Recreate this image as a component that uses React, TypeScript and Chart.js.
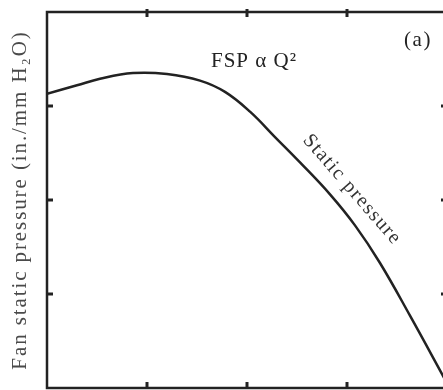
import React, { useEffect, useRef } from "react";
import { Chart, registerables } from "chart.js";

Chart.register(...registerables);

// Flow (relative units) and fan static pressure (relative units)
const flowValues = [0, 0.3, 0.53, 0.86, 1.2, 1.53, 1.78, 2.03, 2.28, 2.53, 2.83, 3.08, 3.33, 3.63, 3.96, 4.0];
const pressureValues = [3.13, 3.22, 3.29, 3.35, 3.34, 3.27, 3.15, 2.94, 2.67, 2.4, 2.06, 1.73, 1.33, 0.77, 0.13, 0.05];

const xTickValues = [1, 2, 3];
const yTickValues = [1, 2, 3];

const yTitle = "Fan static pressure (in./mm H₂O)";
const curveLabel = "Static pressure";
const lawLabel = "FSP α Q²";
const panelLabel = "(a)";

const CANVAS_W = 460;
const CANVAS_H = 390;

const framePlugin = {
  id: "frameAndNotes",
  beforeDraw(chart: any) {
    (chart.ctx as any).letterSpacing = "1.9px";
  },
  afterDraw(chart: any) {
    const { ctx, chartArea: a, scales } = chart;
    const x = scales.x;
    const y = scales.y;
    ctx.save();
    (ctx as any).letterSpacing = "0px";
    ctx.strokeStyle = "#222";
    ctx.lineWidth = 2.5;
    ctx.strokeRect(a.left, a.top, a.right - a.left, a.bottom - a.top);
    const seg = (x1: number, y1: number, x2: number, y2: number) => {
      ctx.beginPath();
      ctx.moveTo(x1, y1);
      ctx.lineTo(x2, y2);
      ctx.stroke();
    };
    ctx.lineWidth = 3;
    xTickValues.forEach((v) => {
      const px = x.getPixelForValue(v);
      seg(px, a.top - 3, px, a.top + 5);
      seg(px, a.bottom - 6, px, a.bottom);
    });
    yTickValues.forEach((v) => {
      const py = y.getPixelForValue(v);
      seg(a.left, py, a.left + 6, py);
      seg(a.right - 6, py, a.right, py);
    });

    ctx.textAlign = "center";
    ctx.textBaseline = "middle";

    // FSP α Q²
    ctx.fillStyle = "#222";
    ctx.font = "21px 'Liberation Serif', serif";
    (ctx as any).letterSpacing = "1px";
    ctx.fillText(lawLabel, x.getPixelForValue(2.07), y.getPixelForValue(3.47));

    // (a)
    ctx.font = "21px 'Liberation Serif', serif";
    (ctx as any).letterSpacing = "1.5px";
    ctx.fillText(panelLabel, x.getPixelForValue(3.71), y.getPixelForValue(3.7));

    // Static pressure (rotated along the curve)
    ctx.fillStyle = "#333";
    ctx.font = "20px 'Liberation Serif', serif";
    (ctx as any).letterSpacing = "1.5px";
    ctx.translate(x.getPixelForValue(3.05), y.getPixelForValue(2.11));
    ctx.rotate((49 * Math.PI) / 180);
    ctx.fillText(curveLabel, 0, 0);
    ctx.restore();
  },
};

export default function App() {
  const ref = useRef<HTMLCanvasElement | null>(null);

  useEffect(() => {
    if (!ref.current) return;
    const chart = new Chart(ref.current, {
      type: "line",
      data: {
        datasets: [
          {
            data: flowValues.map((q, i) => ({ x: q, y: pressureValues[i] })),
            borderColor: "#222",
            borderWidth: 2.5,
            pointRadius: 0,
            tension: 0.4,
            fill: false,
          },
        ],
      },
      options: {
        animation: false,
        responsive: false,
        maintainAspectRatio: false,
        layout: { padding: { left: 0, top: 12, right: CANVAS_W - 447, bottom: 2 } },
        plugins: { legend: { display: false }, tooltip: { enabled: false } },
        scales: {
          x: { type: "linear", display: false, min: 0, max: 4 },
          y: {
            type: "linear",
            min: 0,
            max: 4,
            display: true,
            ticks: { display: false },
            grid: { display: false, drawTicks: false },
            border: { display: false },
            title: {
              display: true,
              text: yTitle,
              color: "#4a4a4a",
              font: { family: "'Liberation Serif', serif", size: 21 },
              padding: { top: 8, bottom: 13.8 },
            },
          },
        },
      },
      plugins: [framePlugin],
    } as any);
    return () => chart.destroy();
  }, []);

  return (
    <div
      style={{
        position: "fixed",
        left: 0,
        top: 0,
        width: 443,
        height: 390,
        overflow: "hidden",
        background: "#fff",
      }}
    >
      <canvas ref={ref} width={CANVAS_W} height={CANVAS_H} style={{ display: "block" }} />
    </div>
  );
}
